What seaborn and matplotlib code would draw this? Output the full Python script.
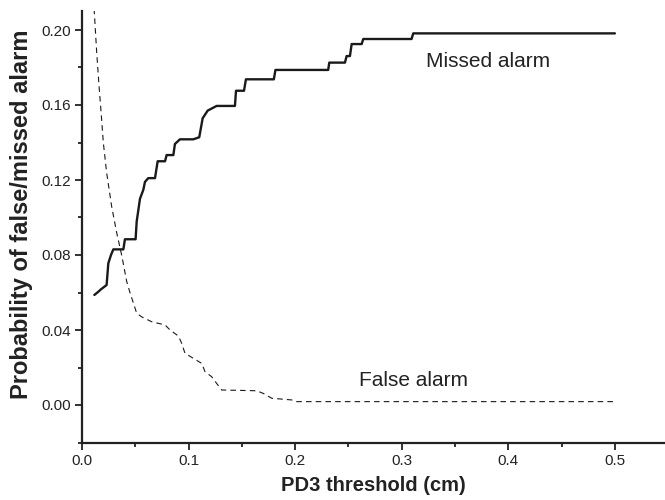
import matplotlib
matplotlib.use("Agg")
import pandas as pd
import seaborn as sns
from matplotlib import pyplot as plt
from matplotlib.ticker import MultipleLocator

# missed alarm (solid step curve)
missed_x = [0.0116, 0.0153, 0.0178, 0.0231, 0.0247, 0.0272, 0.0294, 0.0388, 0.0403, 0.0503,
            0.0513, 0.0544, 0.0575, 0.0591, 0.0622, 0.0685, 0.0710, 0.0779, 0.0794, 0.0857,
            0.0872, 0.0919, 0.1044, 0.1100, 0.1132, 0.1179, 0.1263, 0.1435, 0.1445, 0.1520,
            0.1538, 0.1800, 0.1815, 0.2310, 0.2320, 0.2467, 0.2483, 0.2514, 0.2530, 0.2624,
            0.2639, 0.3092, 0.3108, 0.5000]
missed_y = [0.0587, 0.0604, 0.0617, 0.0640, 0.0756, 0.0800, 0.0830, 0.0830, 0.0884, 0.0884,
            0.0978, 0.1100, 0.1147, 0.1190, 0.1210, 0.1210, 0.1300, 0.1300, 0.1333, 0.1333,
            0.1392, 0.1417, 0.1417, 0.1428, 0.1529, 0.1570, 0.1595, 0.1595, 0.1676, 0.1676,
            0.1737, 0.1737, 0.1787, 0.1787, 0.1826, 0.1826, 0.1861, 0.1861, 0.1925, 0.1925,
            0.1952, 0.1952, 0.1982, 0.1982]

# false alarm (dashed curve)
false_x = [0.0105, 0.0116, 0.0138, 0.0160, 0.0178, 0.0200, 0.0231, 0.0278, 0.0325, 0.0372,
           0.0419, 0.0450, 0.0513, 0.0560, 0.0654, 0.0779, 0.0826, 0.0904, 0.0935, 0.0966,
           0.1044, 0.1123, 0.1154, 0.1216, 0.1310, 0.1639, 0.1700, 0.1780, 0.1967, 0.2014,
           0.5000]
false_y = [0.2200, 0.2090, 0.1880, 0.1700, 0.1570, 0.1400, 0.1240, 0.1060, 0.0920, 0.0800,
           0.0660, 0.0600, 0.0490, 0.0470, 0.0444, 0.0427, 0.0400, 0.0368, 0.0330, 0.0276,
           0.0249, 0.0222, 0.0178, 0.0151, 0.0080, 0.0076, 0.0062, 0.0036, 0.0027, 0.0018,
           0.0018]

sns.set_style("ticks")
plt.rcParams['font.family'] = ['Liberation Sans', 'DejaVu Sans']
plt.rcParams['lines.scale_dashes'] = False

fig = plt.figure(figsize=(6.65, 5.0), dpi=100)
ax = fig.add_axes([0.1233, 0.115, 0.8767, 0.8625])

df_missed = pd.DataFrame({'x': missed_x, 'y': missed_y})
df_false = pd.DataFrame({'x': false_x, 'y': false_y})
sns.lineplot(data=df_missed, x='x', y='y', ax=ax, color='#1a1a1a', linewidth=1.7,
             estimator=None, sort=False)
sns.lineplot(data=df_false, x='x', y='y', ax=ax, color='#1a1a1a', linewidth=0.8,
             estimator=None, sort=False, dashes=False)
ax.lines[-1].set_dashes((4, 3))

ax.set_xlim(0, 0.547)
ax.set_ylim(-0.02, 0.21)
ax.xaxis.set_major_locator(MultipleLocator(0.1))
ax.xaxis.set_minor_locator(MultipleLocator(0.05))
ax.yaxis.set_major_locator(MultipleLocator(0.04))
ax.yaxis.set_minor_locator(MultipleLocator(0.02))
ax.xaxis.set_major_formatter(plt.FormatStrFormatter('%.1f'))
ax.yaxis.set_major_formatter(plt.FormatStrFormatter('%.2f'))
ax.tick_params(which='major', direction='out', length=5, width=1.3, labelsize=11,
               colors='#222222', pad=3)
ax.tick_params(which='minor', direction='out', length=3, width=1.3, colors='#222222')
sns.despine(ax=ax)
for s in ('left', 'bottom'):
    ax.spines[s].set_linewidth(1.6)
    ax.spines[s].set_color('#222222')

ax.set_xlabel('PD3 threshold (cm)', fontsize=14.5, fontweight='bold', color='#222222', labelpad=6)
ax.set_ylabel('Probability of false/missed alarm', fontsize=17, fontweight='bold',
              color='#222222')
ax.yaxis.set_label_coords(-0.084, 0.53)

ax.text(0.381, 0.183, 'Missed alarm', fontsize=15, color='#222222', ha='center', va='center')
ax.text(0.311, 0.0133, 'False alarm', fontsize=15, color='#222222', ha='center', va='center')

fig.savefig('out.png', dpi=100)
